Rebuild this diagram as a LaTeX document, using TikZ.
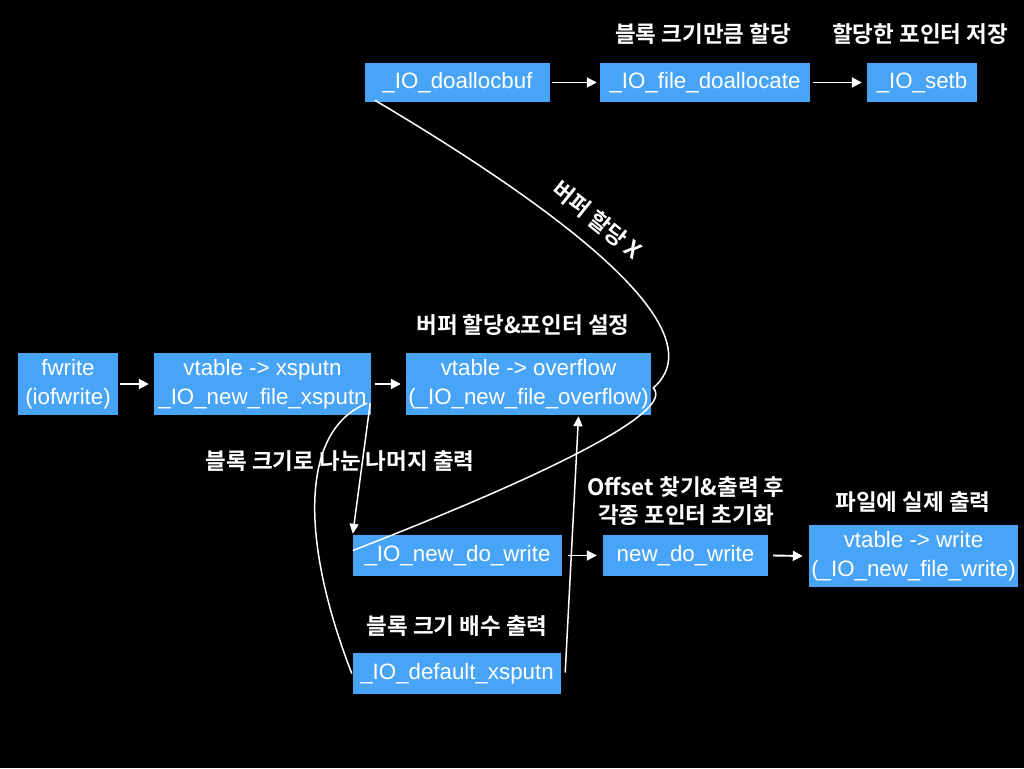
\documentclass[tikz,border=0pt]{standalone}
\usepackage{fontspec}
\setmainfont{Liberation Sans}
\newfontfamily\kr{Noto Sans CJK KR}[BoldFont=* Bold]
\usetikzlibrary{arrows.meta}
\definecolor{boxblue}{RGB}{72,164,246}
\tikzset{
  x=1pt,y=-1pt,
  bx/.style={fill=boxblue,text=white,inner sep=0pt,align=center,font=\fontsize{22.3}{28.5}\selectfont},
  lbl/.style={text=white,inner sep=0pt,align=center,font=\kr\bfseries\fontsize{22.5}{28}\selectfont},
  arr/.style={draw=white,line width=1.9pt,-{Triangle[width=10pt,length=10pt]}},
  wire/.style={draw=white,line width=1.5pt},
  arrw/.style={draw=white,line width=1.5pt,-{Triangle[width=9pt,length=10pt]}}
}
\begin{document}
\begin{tikzpicture}
\fill[black] (0,0) rectangle (1024,768);
\path[use as bounding box] (0,0) rectangle (1024,768);
% boxes
\node[bx,minimum width=185pt,minimum height=39pt] (doalloc) at (457.5,82.5) {\_IO\_doallocbuf};
\node[bx,minimum width=210pt,minimum height=39pt] (filedoalloc) at (705,82.5) {\_IO\_file\_doallocate};
\node[bx,minimum width=110pt,minimum height=39pt] (setb) at (922,82.5) {\_IO\_setb};
\node[bx,minimum width=100pt,minimum height=62pt] (fwrite) at (68,384) {fwrite\\(iofwrite)};
\node[bx,minimum width=217pt,minimum height=62pt] (xsputn) at (262.5,384) {vtable -> xsputn\\\_IO\_new\_file\_xsputn};
\node[bx,minimum width=245pt,minimum height=62pt] (overflow) at (528.5,384) {vtable -> overflow\\(\_IO\_new\_file\_overflow)};
\node[bx,minimum width=209pt,minimum height=41pt] (iodowrite) at (457.5,555.5) {\_IO\_new\_do\_write};
\node[bx,minimum width=165pt,minimum height=41pt] (newdowrite) at (685.5,555.5) {new\_do\_write};
\node[bx,minimum width=209pt,minimum height=62pt] (write) at (913.5,556) {vtable -> write\\(\_IO\_new\_file\_write)};
\node[bx,minimum width=208pt,minimum height=41pt] (defx) at (457,673.5) {\_IO\_default\_xsputn};
% labels
\node[lbl] (l1) at (703,34) {블록 크기만큼 할당};
\node[lbl] (l2) at (920,34) {할당한 포인터 저장};
\node[lbl,rotate=-39] (l3) at (597,220) {버퍼 할당 X};
\node[lbl] (l4) at (523,325) {버퍼 할당\&포인터 설정};
\node[lbl] (l5) at (340,461) {블록 크기로 나눈 나머지 출력};
\node[lbl] (l6) at (686,501) {Offset 찾기\&출력 후\\각종 포인터 초기화};
\node[lbl] (l7) at (913,502) {파일에 실제 출력};
\node[lbl] (l8) at (457,626) {블록 크기 배수 출력};
% straight arrows
\draw[arr] ([xshift=2pt]fwrite.east) -- ([xshift=-5pt]xsputn.west);
\draw[arr] ([xshift=4pt]xsputn.east) -- ([xshift=-5pt]overflow.west);
\draw[arr] ([xshift=2pt]doalloc.east) -- ([xshift=-3pt]filedoalloc.west);
\draw[arr] ([xshift=3pt]filedoalloc.east) -- ([xshift=-5pt]setb.west);
\draw[arr] ([xshift=6pt]iodowrite.east) -- ([xshift=-6pt]newdowrite.west);
\draw[arr] ([xshift=5pt]newdowrite.east) -- ([xshift=-6pt]write.west);
% curves
\coordinate (ajoin) at ([xshift=2pt,yshift=-4pt]overflow.east);
\draw[wire] ([xshift=10pt,yshift=2pt]doalloc.south west) .. controls (560,210) and (720,330) .. (ajoin);
\draw[wire] (ajoin) .. controls (675,410) and (560,470) .. ([yshift=5pt]iodowrite.west);
\draw[arrw] ([xshift=-1pt,yshift=12pt]xsputn.south east) -- ([yshift=1pt]iodowrite.north west);
\draw[wire] ([xshift=-4pt,yshift=12pt]xsputn.south east) .. controls (300,430) and (300,540) .. ([xshift=-1pt]defx.west);
\draw[arrw] ([xshift=4pt,yshift=1pt]defx.east) -- ([xshift=50pt,yshift=-1pt]overflow.south);
\end{tikzpicture}
\end{document}
